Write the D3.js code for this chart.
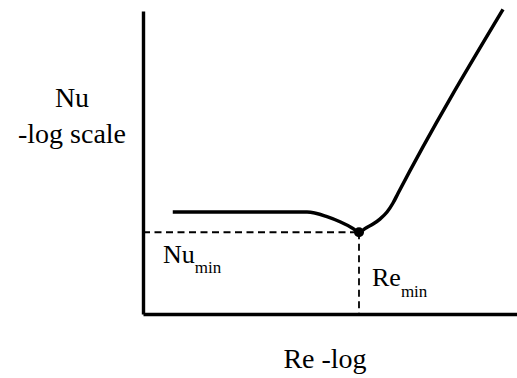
<!DOCTYPE html>
<html>
<head>
<meta charset="utf-8">
<script src="https://cdn.jsdelivr.net/npm/d3@7"></script>
<style>
  html, body { margin: 0; padding: 0; background: #fff; }
  svg { display: block; }
  #labels text, #labels tspan { font-family: "Liberation Serif" !important; }
</style>
</head>
<body>
<svg id="chart" width="517" height="378"></svg>
<script>
// Nusselt number vs Reynolds number, both on logarithmic axes (schematic)
const reValues = [25, 1200, 1560, 2880, 4300, 6410, 7720, 9570, 11900, 14700, 18300, 22000, 25600, 650000];
const nuValues = [22.2, 22.2, 22.2, 19.3, 16.5, 13.5, 12.0, 13.7, 15.4, 17.9, 22.2, 29.2, 39.0, 10500];

// Minimum of the curve
const reMin = 7720;
const nuMin = 12.0;

const reDomain = [10, 1e6];
const nuDomain = [1, 1e4];

const yTitleLines = ["Nu", "-log scale"];
const xTitle = "Re -log";

const serif = '"Liberation Serif"';

const svg = d3.select("#chart");

const x = d3.scaleLog().domain(reDomain).range([143, 517]);
const y = d3.scaleLog().domain(nuDomain).range([314, 11]);

// Text layer
const labels = svg.append("g")
  .attr("id", "labels")
  .style("font-family", serif);

// Labels for the minimum
const nuLabel = labels.append("text")
  .style("font-family", serif)
  .style("font-size", "26px")
  .attr("x", 163).attr("y", 263);
nuLabel.append("tspan").text("Nu");
nuLabel.append("tspan").attr("dy", 10).style("font-size", "17px").text("min");

const reLabel = labels.append("text")
  .style("font-family", serif)
  .style("font-size", "26px")
  .attr("x", 372).attr("y", 286);
reLabel.append("tspan").text("Re");
reLabel.append("tspan").attr("dy", 11).style("font-size", "17px").text("min");

// Axis titles
labels.append("text")
  .style("font-family", serif)
  .style("font-size", "28px")
  .attr("text-anchor", "middle")
  .attr("x", 72).attr("y", 107)
  .selectAll("tspan")
  .data(yTitleLines)
  .join("tspan")
  .attr("x", 72)
  .attr("dy", (d, i) => i === 0 ? 0 : 36)
  .text(d => d);

labels.append("text")
  .style("font-family", serif)
  .style("font-size", "28px")
  .attr("text-anchor", "middle")
  .attr("x", 325).attr("y", 368)
  .text(xTitle);

// Axes: bare lines, no ticks
const axisX = d3.axisBottom(x).tickValues([]).tickSizeOuter(0);
const axisY = d3.axisLeft(y).tickValues([]).tickSizeOuter(0);

svg.append("g")
  .attr("transform", `translate(0,${y(nuDomain[0])})`)
  .call(axisX)
  .call(g => g.select(".domain").attr("stroke", "#000").attr("stroke-width", 3.6));

svg.append("g")
  .attr("transform", `translate(${x(reDomain[0])},0)`)
  .call(axisY)
  .call(g => g.select(".domain").attr("stroke", "#000").attr("stroke-width", 3.4));

// Dashed guides to the minimum
const guides = svg.append("g")
  .attr("stroke", "#000")
  .attr("stroke-width", 1.8)
  .attr("stroke-dasharray", "7,4.5");

guides.append("line")
  .attr("x1", x(reDomain[0])).attr("x2", x(reMin))
  .attr("y1", y(nuMin)).attr("y2", y(nuMin));

guides.append("line")
  .attr("x1", x(reMin)).attr("x2", x(reMin))
  .attr("y1", y(nuMin)).attr("y2", y(nuDomain[0]));

// Curve
const pts = reValues.map((r, i) => [r, nuValues[i]]);
const line = d3.line()
  .x(d => x(d[0]))
  .y(d => y(d[1]))
  .curve(d3.curveMonotoneX);

svg.append("path")
  .datum(pts)
  .attr("d", line)
  .attr("fill", "none")
  .attr("stroke", "#000")
  .attr("stroke-width", 3.5)
  .attr("stroke-linecap", "butt");

// Minimum marker
svg.append("circle")
  .attr("cx", x(reMin))
  .attr("cy", y(nuMin))
  .attr("r", 5)
  .attr("fill", "#000");
</script>
</body>
</html>
